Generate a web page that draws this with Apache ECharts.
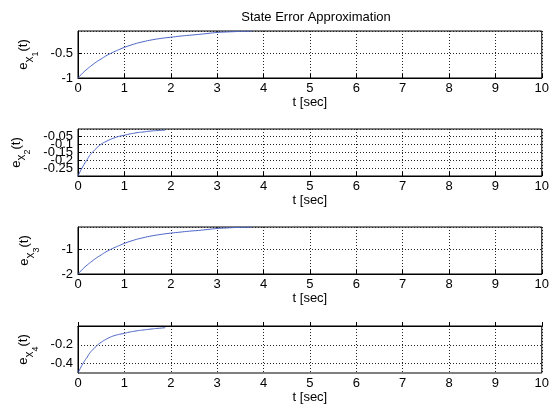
<!DOCTYPE html>
<html>
<head>
<meta charset="utf-8">
<script src="https://cdn.jsdelivr.net/npm/echarts@6/dist/echarts.min.js"></script>
<style>
  html, body { margin: 0; padding: 0; background: #fff; }
  #chart { width: 552px; height: 414px; }
</style>
</head>
<body>
<div id="chart"></div>
<script>
// time samples (sec)
const tLong = [0, 0.1, 0.2, 0.3, 0.4, 0.5, 0.6, 0.7, 0.8, 0.9, 1.0, 1.2, 1.4, 1.6, 1.8, 2.0, 2.2, 2.4, 2.6, 2.8, 3.0, 3.2, 3.4, 3.6, 3.77];
const tShort = [0, 0.05, 0.1, 0.15, 0.2, 0.25, 0.3, 0.4, 0.5, 0.6, 0.7, 0.8, 0.9, 1.0, 1.1, 1.2, 1.3, 1.4, 1.5, 1.6, 1.7, 1.8, 1.88];

// state errors e_x1 .. e_x4
const ex1 = [-1, -0.9, -0.815, -0.74, -0.67, -0.61, -0.55, -0.5, -0.455, -0.413, -0.375, -0.31, -0.26, -0.22, -0.19, -0.167, -0.145, -0.127, -0.11, -0.09, -0.07, -0.06, -0.052, -0.046, -0.042];
const ex2 = [-0.3, -0.27, -0.243, -0.218, -0.195, -0.172, -0.155, -0.125, -0.1, -0.084, -0.07, -0.059, -0.05, -0.044, -0.037, -0.032, -0.027, -0.024, -0.02, -0.017, -0.015, -0.013, -0.012];
const ex3 = [-2, -1.8, -1.63, -1.48, -1.34, -1.22, -1.1, -1.0, -0.91, -0.83, -0.75, -0.62, -0.52, -0.44, -0.38, -0.33, -0.29, -0.25, -0.22, -0.18, -0.14, -0.12, -0.10, -0.092, -0.084];
const ex4 = [-0.5, -0.45, -0.405, -0.365, -0.33, -0.29, -0.262, -0.212, -0.173, -0.143, -0.118, -0.1, -0.088, -0.078, -0.066, -0.057, -0.049, -0.043, -0.037, -0.031, -0.026, -0.022, -0.018];

const xTicks = [0, 10, 1];            // min, max, step
const yRanges = [
  { min: -1, max: -0.04, interval: 0.5 },
  { min: -0.3, max: -0.005, interval: 0.05 },
  { min: -2, max: -0.08, interval: 1 },
  { min: -0.5, max: 0, interval: 0.1 }
];
const subs = ['1', '2', '3', '4'];
const series = [[tLong, ex1], [tShort, ex2], [tLong, ex3], [tShort, ex4]];

const tops = [31, 129, 227, 326];
const font = 'Liberation Sans, Arial, sans-serif';
const dots = [1, 2];

const chart = echarts.init(document.getElementById('chart'));

const grids = [], xAxes = [], yAxes = [], seriesOpt = [];
tops.forEach((top, i) => {
  grids.push({
    left: 78, right: 9, top: top, height: 47,
    show: true, borderColor: '#000', borderWidth: 1, backgroundColor: '#fff'
  });
  xAxes.push({
    gridIndex: i, type: 'value',
    min: xTicks[0], max: xTicks[1], interval: xTicks[2],
    name: 't [sec]', nameLocation: 'middle', nameGap: 17,
    nameTextStyle: { fontFamily: font, fontSize: 13, color: '#000' },
    axisLine: { show: true, lineStyle: { color: '#000' } },
    axisTick: { show: true, inside: true, length: 4, lineStyle: { color: '#000' } },
    axisLabel: { margin: 4, fontFamily: font, fontSize: 13, color: '#000' },
    splitLine: { show: true, lineStyle: { color: '#222', type: dots, width: 1 } }
  });
  const r = yRanges[i];
  const y = {
    gridIndex: i, type: 'value',
    min: r.min, max: r.max, interval: r.interval,
    name: '{e|e}{x|x}{s|' + subs[i] + '}{e|(t)}',
    nameLocation: 'middle', nameRotate: 90, nameGap: 37,
    nameTextStyle: {
      color: '#000',
      rich: {
        e: { fontFamily: font, fontSize: 13, color: '#000' },
        x: { fontFamily: font, fontSize: 12, color: '#000', padding: [12, 0, 0, 0] },
        s: { fontFamily: font, fontSize: 9, color: '#000', padding: [24, 0, 0, 0] }
      }
    },
    axisLine: { show: true, lineStyle: { color: '#000' } },
    axisTick: { show: true, inside: true, length: 4, lineStyle: { color: '#000' } },
    axisLabel: {
      margin: 5, fontFamily: font, fontSize: 13, color: '#000',
      showMinLabel: i === 1 ? false : true, showMaxLabel: false,
      formatter: v => String(+v.toFixed(2))
    },
    splitLine: { show: true, lineStyle: { color: '#222', type: dots, width: 1 } }
  };
  if (i === 3) {
    // only -0.4 and -0.2 get a label and a grid line
    y.axisTick = { show: false };
    y.axisLabel.formatter = v => {
      const s = +v.toFixed(2);
      return (s === -0.4 || s === -0.2) ? String(s) : '';
    };
    y.splitLine.lineStyle.color = ['rgba(0,0,0,0)', '#222'];
  }
  yAxes.push(y);
  const [ts, vs] = series[i];
  seriesOpt.push({
    type: 'line', xAxisIndex: i, yAxisIndex: i,
    data: ts.map((t, k) => [t, vs[k]]),
    showSymbol: false, smooth: true, clip: true,
    lineStyle: { color: '#4a64c4', width: 1 },
    itemStyle: { color: '#4a64c4' }
  });
});

chart.setOption({
  animation: false,
  backgroundColor: '#fff',
  title: {
    text: 'State Error Approximation',
    left: 311, top: 6, textAlign: 'center',
    textStyle: { fontFamily: font, fontSize: 13, fontWeight: 'normal', color: '#000' }
  },
  grid: grids,
  xAxis: xAxes,
  yAxis: yAxes,
  series: seriesOpt
});
</script>
</body>
</html>
